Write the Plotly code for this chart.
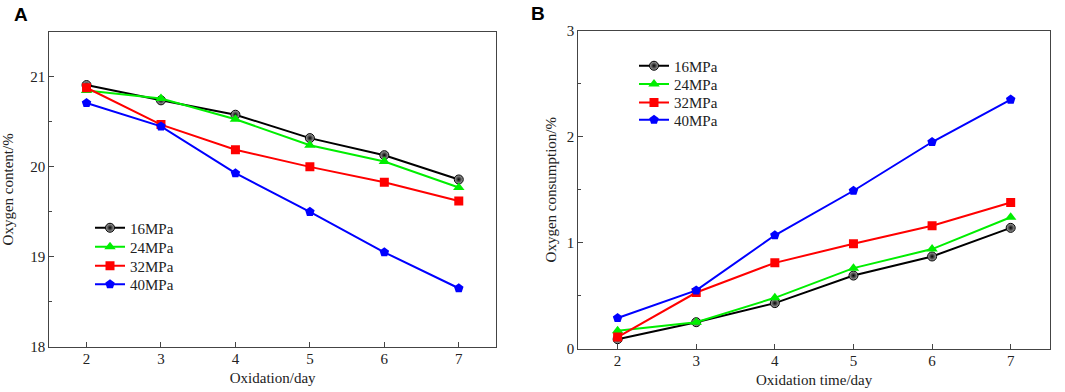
import plotly.graph_objects as go

days = [2, 3, 4, 5, 6, 7]
series_names = ["16MPa", "24MPa", "32MPa", "40MPa"]

# Panel A: oxygen content (%)
content_16 = [20.91, 20.74, 20.58, 20.32, 20.13, 19.86]
content_24 = [20.85, 20.76, 20.53, 20.24, 20.06, 19.77]
content_32 = [20.88, 20.47, 20.19, 20.00, 19.83, 19.62]
content_40 = [20.71, 20.45, 19.93, 19.50, 19.05, 18.65]

# Panel B: oxygen consumption (%)
consum_16 = [0.09, 0.25, 0.43, 0.69, 0.87, 1.14]
consum_24 = [0.17, 0.25, 0.48, 0.76, 0.94, 1.24]
consum_32 = [0.11, 0.53, 0.81, 0.99, 1.16, 1.38]
consum_40 = [0.29, 0.55, 1.07, 1.49, 1.95, 2.35]

content = [content_16, content_24, content_32, content_40]
consum = [consum_16, consum_24, consum_32, consum_40]

colors = ["#000000", "#00ee00", "#ff0000", "#0000ff"]
symbols = ["circle", "triangle-up", "square", "pentagon"]
sizes = [9, 10, 9, 10]

FONT = "Liberation Serif, Times New Roman, serif"
W, H = 1065, 392

# legend row centres (px from top) for each panel
legA_rows = [228, 247, 266, 284.5]
legB_rows = [66, 84.3, 102.7, 120]

fig = go.Figure()

def marker_for(i):
    if i == 0:
        return dict(symbol="circle", size=sizes[i], color="#aaaaaa",
                    gradient=dict(type="radial", color="#000000"),
                    line=dict(width=1, color="#000000"))
    return dict(symbol=symbols[i], size=sizes[i], color=colors[i],
                line=dict(width=0))

legend_layouts = {}
n = 0
for panel, data, xa, ya, rows, lx in [
        ("A", content, "x", "y", legA_rows, 90),
        ("B", consum, "x2", "y2", legB_rows, 634)]:
    for i, name in enumerate(series_names):
        n += 1
        key = "legend" if n == 1 else f"legend{n}"
        fig.add_trace(go.Scatter(
            x=days, y=data[i], name=name, mode="lines+markers",
            line=dict(color=colors[i], width=2), marker=marker_for(i),
            xaxis=xa, yaxis=ya, legend=key))
        legend_layouts[key] = dict(
            x=lx / W, y=(H - rows[i]) / H, xanchor="left", yanchor="middle",
            bgcolor="rgba(0,0,0,0)", borderwidth=0,
            font=dict(family=FONT, size=15, color="#222222"),
            tracegroupgap=0)

def xdom(l, r):
    return [l / W, r / W]

def ydom(b, t):
    return [(H - b) / H, (H - t) / H]

axis_common = dict(
    showline=True, linecolor="#444444", linewidth=1.3, mirror=True,
    ticks="inside", ticklen=5, tickwidth=1.2, tickcolor="#444444",
    showgrid=False, zeroline=False,
    tickfont=dict(family=FONT, size=15, color="#222222"),
    automargin=False,
)

fig.update_layout(
    width=W, height=H,
    margin=dict(l=0, r=0, t=0, b=0),
    paper_bgcolor="white", plot_bgcolor="white",
    font=dict(family=FONT, size=15, color="#222222"),
    xaxis=dict(axis_common, domain=xdom(49.3, 496), range=[1.5, 7.5],
               tickvals=days, anchor="y", ticklabelstandoff=-2,
               title=dict(text="Oxidation/day", standoff=6,
                          font=dict(family=FONT, size=15))),
    yaxis=dict(axis_common, domain=ydom(346.7, 32), range=[18, 21.5],
               tickvals=[18, 19, 20, 21], anchor="x",
               minor=dict(ticks="inside", ticklen=3, tickwidth=1.2,
                          tickcolor="#444444", dtick=0.5, tick0=18),
               title=dict(text="Oxygen content/%", standoff=15,
                          font=dict(family=FONT, size=15))),
    xaxis2=dict(axis_common, domain=xdom(578.3, 1050), range=[1.5, 7.5],
                tickvals=days, anchor="y2", ticklabelstandoff=-2,
                title=dict(text="Oxidation time/day", standoff=6,
                           font=dict(family=FONT, size=15))),
    yaxis2=dict(axis_common, domain=ydom(348.7, 30.7), range=[0, 3],
                tickvals=[0, 1, 2, 3], anchor="x2",
                minor=dict(ticks="inside", ticklen=3, tickwidth=1.2,
                           tickcolor="#444444", dtick=0.5, tick0=0),
                title=dict(text="Oxygen consumption/%", standoff=6,
                           font=dict(family=FONT, size=15))),
    showlegend=True,
    annotations=[
        dict(text="<b>A</b>", x=12 / W, y=(H - 2) / H, xref="paper",
             yref="paper", xanchor="left", yanchor="top", showarrow=False,
             font=dict(family="Liberation Sans, Arial, sans-serif", size=19,
                       color="#000000")),
        dict(text="<b>B</b>", x=529 / W, y=(H - 1) / H, xref="paper",
             yref="paper", xanchor="left", yanchor="top", showarrow=False,
             font=dict(family="Liberation Sans, Arial, sans-serif", size=19,
                       color="#000000")),
    ],
)
fig.update_layout(**legend_layouts)

fig.write_html("out.html",
               config={"displayModeBar": False},
               post_script="document.body.style.margin='0';")
